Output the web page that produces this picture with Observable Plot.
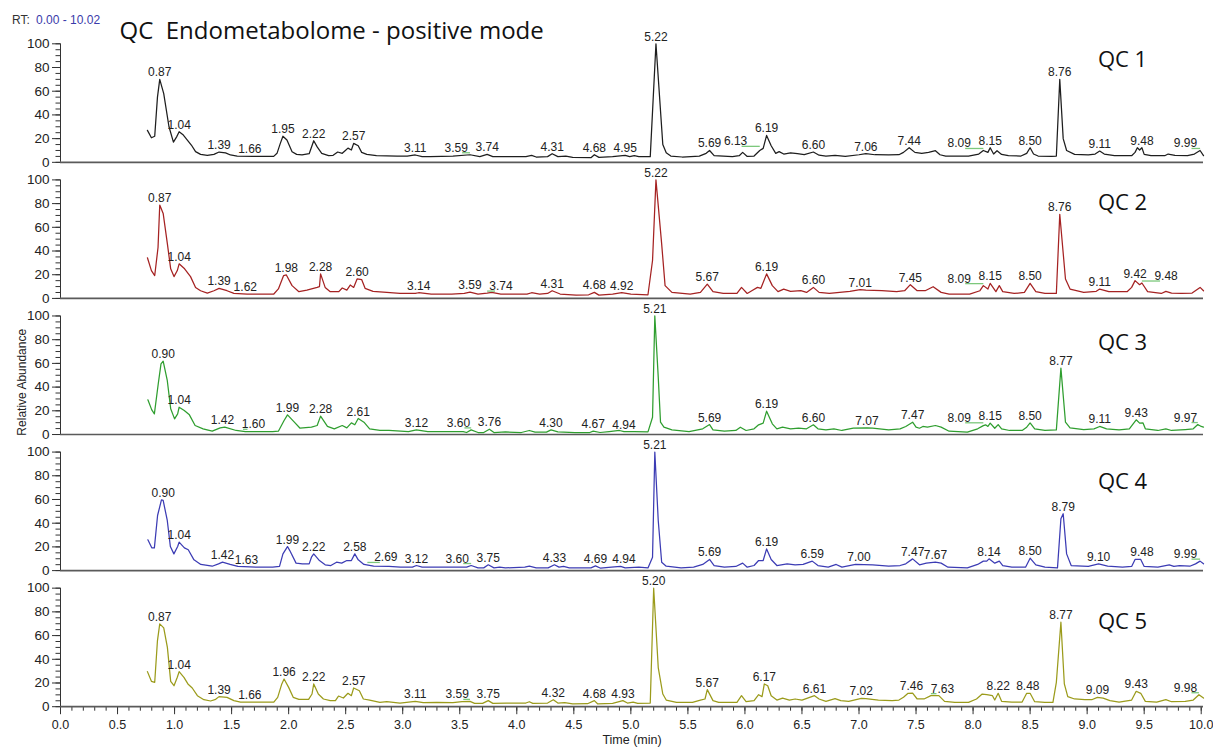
<!DOCTYPE html>
<html>
<head>
<meta charset="utf-8">
<script src="https://cdn.jsdelivr.net/npm/d3@7"></script>
<script src="https://cdn.jsdelivr.net/npm/@observablehq/plot@0.6"></script>
<style>
  html, body { margin: 0; padding: 0; background: #fff; }
</style>
</head>
<body>
<div id="chart"></div>
<script>
// Five QC injections, relative abundance (%) against retention time (min)
const samples = ["QC 1", "QC 2", "QC 3", "QC 4", "QC 5"];
const traceColors = ["#1e1e1e", "#a52222", "#2f9e2f", "#3c3cb4", "#9b9b1b"];

const qc1 = [[0.762,27],[0.797,20.7],[0.826,22],[0.85,55],[0.87,70],[0.905,58],[0.951,30],[0.99,17],[1.018,21.5],[1.04,25.8],[1.077,23],[1.112,18.8],[1.147,14.6],[1.184,9],[1.228,6.7],[1.287,5.9],[1.345,6.7],[1.39,8.7],[1.447,8],[1.49,6.2],[1.549,5.3],[1.694,5],[1.869,5],[1.898,7.6],[1.927,16],[1.95,22],[1.985,18.8],[2.03,9],[2.07,6.7],[2.117,6.2],[2.18,7.3],[2.22,18.2],[2.25,13],[2.29,7.6],[2.35,5.6],[2.39,5.9],[2.43,8.7],[2.47,7.6],[2.495,9.8],[2.52,12],[2.55,10.4],[2.57,16],[2.61,14],[2.64,8.4],[2.685,6.7],[2.77,5.6],[2.95,5.3],[3.04,5.3],[3.11,6.2],[3.17,4.8],[3.24,4.8],[3.44,5.3],[3.59,6.4],[3.676,4.8],[3.74,6.7],[3.79,4.8],[4.08,4.8],[4.13,5.9],[4.17,4.5],[4.27,4.8],[4.31,7.3],[4.36,4.8],[4.43,5.3],[4.49,4.2],[4.65,3.9],[4.68,6.4],[4.72,4.2],[4.84,4.8],[4.95,5.9],[4.99,4.8],[5.03,5.6],[5.07,4.8],[5.17,4.8],[5.22,100],[5.28,15],[5.31,8],[5.35,5.3],[5.45,4.5],[5.6,5.3],[5.66,7.6],[5.69,10],[5.73,5.6],[5.89,4.8],[5.95,5.6],[5.98,8.4],[6.02,5],[6.08,5.3],[6.13,10],[6.16,11.8],[6.19,22.7],[6.23,14],[6.27,7.6],[6.3,9],[6.34,7],[6.4,8],[6.46,7.3],[6.52,6.5],[6.6,8.7],[6.65,6],[6.71,5.3],[6.79,5.9],[6.88,5],[7,6.4],[7.06,7.3],[7.14,6.4],[7.26,6.2],[7.35,6.4],[7.39,8.4],[7.44,12.3],[7.49,8.4],[7.55,7.6],[7.61,8.4],[7.67,9.8],[7.71,6.4],[7.76,5.3],[7.96,5.3],[8.05,7],[8.09,10],[8.13,8.4],[8.15,12.3],[8.18,7],[8.21,9.8],[8.25,6.7],[8.31,5.6],[8.42,5.3],[8.47,7.6],[8.5,12.3],[8.53,7],[8.57,5.3],[8.69,5],[8.73,5.3],[8.76,70],[8.79,20],[8.82,10],[8.89,6.7],[9.01,6.2],[9.07,7],[9.11,9.5],[9.15,7],[9.24,5.6],[9.39,5.6],[9.42,8.4],[9.44,12.3],[9.46,10.4],[9.48,12.3],[9.5,6.7],[9.56,5.6],[9.68,5.6],[9.71,7],[9.77,5.9],[9.88,5.6],[9.94,7],[9.99,10],[10.02,5.6]];

const qc2 = [[0.762,34.3],[0.797,23.5],[0.826,19.3],[0.855,43],[0.87,78.8],[0.9,71.7],[0.937,46],[0.966,25],[0.995,18.4],[1.024,23.5],[1.04,29.2],[1.088,25],[1.14,18.4],[1.184,9.3],[1.228,6.5],[1.287,4.5],[1.345,6.5],[1.39,8.5],[1.46,6.5],[1.52,4.2],[1.636,3.7],[1.87,3.7],[1.91,8],[1.956,19.3],[1.98,19.8],[2.03,10.8],[2.09,5.7],[2.16,7],[2.25,9.3],[2.27,9.9],[2.28,20.7],[2.32,9.3],[2.365,5.7],[2.44,5.7],[2.47,8.8],[2.51,7],[2.54,11.3],[2.57,9.3],[2.6,16.4],[2.64,15.9],[2.67,8.5],[2.74,6],[2.86,5.1],[2.976,4.2],[3.11,4.2],[3.14,4.8],[3.25,3.7],[3.43,3.7],[3.54,4.2],[3.59,5.4],[3.66,3.7],[3.74,4.5],[3.78,5.1],[3.86,3.7],[4.09,3.7],[4.13,4.8],[4.2,3.7],[4.27,4.2],[4.31,6.5],[4.38,3.7],[4.52,2.8],[4.63,3.1],[4.68,5.1],[4.72,2.8],[4.84,3.7],[4.92,4.8],[5,3.7],[5.15,3.1],[5.19,32],[5.22,100],[5.27,46],[5.3,10.8],[5.36,5.1],[5.52,3.7],[5.61,5.1],[5.67,12],[5.72,5.7],[5.81,4.2],[5.93,4.2],[5.97,9.3],[6.02,4.2],[6.06,6.5],[6.11,9.3],[6.14,8.5],[6.19,20.7],[6.24,10.8],[6.29,5.7],[6.34,7.9],[6.4,6],[6.49,6.5],[6.54,5.1],[6.6,9.3],[6.65,5.1],[6.74,4.2],[6.83,5.1],[6.92,6],[7.01,7.4],[7.06,7],[7.2,6.5],[7.33,5.7],[7.4,6.5],[7.45,11.6],[7.51,6.5],[7.58,6.5],[7.65,9.9],[7.72,5.1],[7.79,3.7],[7.97,3.7],[8.06,6.5],[8.09,10.8],[8.13,7.9],[8.15,12.7],[8.2,5.7],[8.23,10.8],[8.26,5.7],[8.36,4.2],[8.45,5.1],[8.5,12.7],[8.55,5.7],[8.63,4.2],[8.73,4.2],[8.76,71],[8.81,16.4],[8.85,7.9],[8.97,5.1],[9.08,6],[9.11,7.9],[9.19,5.7],[9.35,5.7],[9.39,9.3],[9.42,15],[9.46,11.6],[9.48,13],[9.53,5.7],[9.65,4.2],[9.69,6],[9.74,4.5],[9.83,4.2],[9.92,4.5],[9.99,9.3],[10.02,6.5]];

const qc3 = [[0.766,29.3],[0.8,20.8],[0.823,17.4],[0.857,42.8],[0.881,59.6],[0.9,61.9],[0.936,45.6],[0.966,21.7],[1,13.2],[1.027,17.4],[1.04,23],[1.085,20.3],[1.13,16.6],[1.18,7.6],[1.25,4.8],[1.33,2.8],[1.4,5.6],[1.44,6.2],[1.54,3.4],[1.62,2.5],[1.86,2.5],[1.91,2.8],[1.96,11.8],[1.99,16.6],[2.05,10.4],[2.1,5.3],[2.2,6.2],[2.25,7.6],[2.28,15.5],[2.34,6.8],[2.4,4.8],[2.47,7.6],[2.51,5.6],[2.55,9.8],[2.58,8.2],[2.61,13.5],[2.66,10.4],[2.71,4.8],[2.8,3.4],[2.88,3.4],[3.05,2.5],[3.12,3.9],[3.22,2.5],[3.53,2.5],[3.56,1.7],[3.6,3.9],[3.66,1.7],[3.71,1.7],[3.76,4.5],[3.8,1.7],[3.9,2.2],[4.04,1.7],[4.11,3.4],[4.16,2],[4.26,2],[4.3,3.9],[4.36,2.2],[4.51,1.7],[4.64,1.7],[4.67,2.8],[4.73,1.7],[4.81,2.5],[4.9,3.4],[4.94,2.5],[5.03,2.5],[5.15,2.2],[5.19,14.6],[5.21,100],[5.24,48.4],[5.26,10.4],[5.29,6.2],[5.36,3.9],[5.51,2.5],[5.63,4.8],[5.69,8.4],[5.72,3.9],[5.82,2.8],[5.92,3.4],[5.96,6.2],[6.01,3.4],[6.08,4.8],[6.12,8.2],[6.16,9.6],[6.19,19.7],[6.24,9],[6.28,4.8],[6.33,6.2],[6.4,4.8],[6.47,5.3],[6.54,4.8],[6.6,8.2],[6.64,4.8],[6.71,3.9],[6.78,4.8],[6.85,3.4],[6.95,5.3],[7.07,5.6],[7.12,5.3],[7.26,3.9],[7.36,4.8],[7.41,6.8],[7.47,10.4],[7.5,6.2],[7.53,5.3],[7.56,6.8],[7.6,6.2],[7.67,7.6],[7.72,6.2],[7.79,2.8],[7.95,2],[8.04,4.8],[8.09,7.5],[8.11,8.2],[8.13,6.8],[8.15,9.6],[8.19,5.3],[8.22,8.4],[8.25,4.8],[8.32,3.4],[8.43,3.4],[8.47,6.2],[8.5,9.8],[8.54,4.8],[8.63,3.4],[8.73,3.9],[8.77,56],[8.81,10.4],[8.85,5.6],[8.97,4.2],[9.06,4.8],[9.11,6.8],[9.17,4.8],[9.28,3.9],[9.37,4.8],[9.43,12.4],[9.46,9.6],[9.49,9.8],[9.51,4.8],[9.62,3.4],[9.69,4.8],[9.74,3.4],[9.86,4.2],[9.93,4.8],[9.97,8.4],[10,6.8],[10.02,6.2]];

const qc4 = [[0.766,26],[0.8,19.2],[0.823,19.2],[0.851,46.5],[0.885,59.7],[0.9,59.2],[0.936,42.3],[0.963,20.3],[0.994,14.1],[1.027,20.3],[1.04,24],[1.086,19.2],[1.12,17.6],[1.17,9.1],[1.23,5.2],[1.33,3.7],[1.385,5.7],[1.42,7.1],[1.487,5.2],[1.555,3.5],[1.72,2.9],[1.86,2.9],[1.92,3.5],[1.95,14.1],[1.99,20.3],[2.01,16.9],[2.065,6.3],[2.12,5.7],[2.18,5.7],[2.2,11.3],[2.22,14.1],[2.27,8.5],[2.32,4.9],[2.37,4.3],[2.42,7.1],[2.465,6.3],[2.51,8.5],[2.55,8.5],[2.58,14.1],[2.61,9.1],[2.66,5.2],[2.745,3.7],[2.88,3.5],[2.98,2.9],[3.085,2.9],[3.12,4.3],[3.17,2.9],[3.56,2.9],[3.6,4.3],[3.66,2.3],[3.71,2.3],[3.75,4.9],[3.8,2.3],[3.85,2.9],[3.9,2.3],[4.07,2.9],[4.11,3.7],[4.17,2.3],[4.275,2.3],[4.33,4.9],[4.37,2.9],[4.41,3.5],[4.46,2.3],[4.65,2.3],[4.69,4],[4.735,2],[4.83,2.9],[4.91,3.5],[4.95,2.3],[5.07,2.9],[5.15,2.3],[5.19,11.3],[5.21,100],[5.24,42.3],[5.27,7.1],[5.31,3.7],[5.44,2.3],[5.55,2.9],[5.63,5.2],[5.69,9.4],[5.73,4.3],[5.82,2.9],[5.92,3.5],[5.98,6.3],[6.02,2.9],[6.08,4.3],[6.12,8.5],[6.16,8.5],[6.19,18.3],[6.23,9.4],[6.28,4.3],[6.37,5.7],[6.44,4.9],[6.51,5.2],[6.59,8],[6.64,4.3],[6.73,2.9],[6.8,5.2],[6.85,2.9],[6.97,5.2],[7.12,4.9],[7.26,3.7],[7.36,4.3],[7.41,5.7],[7.47,9.9],[7.53,4.9],[7.59,6.3],[7.67,7.1],[7.72,6.3],[7.78,2.9],[7.95,2.3],[8.04,5.2],[8.09,8],[8.12,8],[8.14,9.9],[8.19,6.3],[8.23,8],[8.26,4.3],[8.34,2.9],[8.46,2.9],[8.5,10.5],[8.55,4.9],[8.63,2.9],[8.74,2.3],[8.77,43.7],[8.79,48],[8.82,14.1],[8.86,4.3],[9.01,3.5],[9.1,5.7],[9.18,3.7],[9.31,2.9],[9.39,3.5],[9.42,9.4],[9.47,9.4],[9.5,3.5],[9.62,2.9],[9.72,4.9],[9.76,3.5],[9.81,4.3],[9.9,3.7],[9.95,5.7],[9.99,8],[10.02,5.7]];

const qc5 = [[0.762,29.6],[0.797,21.4],[0.826,20.6],[0.85,55.8],[0.87,69.9],[0.905,66.5],[0.937,50],[0.966,21.4],[0.995,17.7],[1.024,24.8],[1.04,29.6],[1.082,24.8],[1.117,19.2],[1.155,15.8],[1.2,9.3],[1.257,5.9],[1.316,4.8],[1.36,6.2],[1.39,8.5],[1.46,7.9],[1.52,5.1],[1.578,3.9],[1.87,3.9],[1.904,7.9],[1.94,19.2],[1.96,23.4],[2,16.3],[2.04,7.9],[2.09,6.2],[2.175,6.2],[2.205,10.7],[2.22,19.2],[2.26,10.7],[2.305,6.5],[2.365,5.1],[2.41,5.1],[2.437,9],[2.48,7.3],[2.52,11.3],[2.55,9.3],[2.57,15.8],[2.62,13.5],[2.655,6.5],[2.71,5.6],[2.8,3.7],[2.86,4.2],[2.976,3.1],[3.11,4.5],[3.18,3.4],[3.3,3.7],[3.44,3.4],[3.52,4.2],[3.59,4.5],[3.63,2.8],[3.7,2.8],[3.75,5.1],[3.79,2.8],[3.91,3.1],[4.08,3.1],[4.11,4.2],[4.14,2.8],[4.27,3.1],[4.32,5.9],[4.36,3.1],[4.42,3.4],[4.49,2.3],[4.62,2.5],[4.68,5.1],[4.71,2.3],[4.84,2.8],[4.93,5.1],[4.97,3.1],[5.02,3.9],[5.06,2.8],[5.17,3.1],[5.2,100],[5.24,33],[5.28,10.7],[5.31,5.6],[5.4,3.7],[5.54,3.7],[5.61,5.6],[5.65,6.5],[5.67,14.4],[5.72,5.1],[5.77,3.7],[5.93,3.7],[5.97,9.3],[6.01,4.2],[6.08,5.1],[6.12,10.1],[6.15,8.5],[6.17,19.2],[6.2,17.7],[6.23,9.3],[6.28,5.6],[6.33,7.3],[6.39,5.6],[6.44,6.5],[6.5,5.6],[6.61,9.3],[6.65,6.5],[6.71,4.5],[6.79,6.8],[6.84,5.1],[6.91,4.5],[7.02,7],[7.06,6.8],[7.17,5.6],[7.29,5.1],[7.35,5.6],[7.39,7.9],[7.43,11.3],[7.47,11.5],[7.51,6.5],[7.57,6.5],[7.63,9.3],[7.7,9.3],[7.75,4.5],[7.84,3.7],[7.96,3.7],[8.03,6.5],[8.08,10.7],[8.12,10.1],[8.17,9.3],[8.19,5.6],[8.22,11.3],[8.25,4.5],[8.34,3.9],[8.43,3.9],[8.47,11.3],[8.5,11.3],[8.54,4.2],[8.63,3.7],[8.7,3.7],[8.73,20.6],[8.77,71.3],[8.8,19.2],[8.83,8.5],[8.89,6.5],[8.98,5.9],[9.04,5.9],[9.09,7.9],[9.14,7.3],[9.2,5.1],[9.28,3.9],[9.39,5.6],[9.43,13],[9.47,11.3],[9.51,4.5],[9.61,3.9],[9.69,5.9],[9.74,4.2],[9.86,4.5],[9.93,5.6],[9.98,10.1],[10.02,7.3]];

// Annotated peak retention times (min) per injection
const peaks1 = [0.87,1.04,1.39,1.66,1.95,2.22,2.57,3.11,3.59,3.74,4.31,4.68,4.95,5.22,5.69,6.13,6.19,6.60,7.06,7.44,8.09,8.15,8.50,8.76,9.11,9.48,9.99];
const peaks2 = [0.87,1.04,1.39,1.62,1.98,2.28,2.60,3.14,3.59,3.74,4.31,4.68,4.92,5.22,5.67,6.19,6.60,7.01,7.45,8.09,8.15,8.50,8.76,9.11,9.42,9.48];
const peaks3 = [0.90,1.04,1.42,1.60,1.99,2.28,2.61,3.12,3.60,3.76,4.30,4.67,4.94,5.21,5.69,6.19,6.60,7.07,7.47,8.09,8.15,8.50,8.77,9.11,9.43,9.97];
const peaks4 = [0.90,1.04,1.42,1.63,1.99,2.22,2.58,2.69,3.12,3.60,3.75,4.33,4.69,4.94,5.21,5.69,6.19,6.59,7.00,7.47,7.67,8.14,8.50,8.79,9.10,9.48,9.99];
const peaks5 = [0.87,1.04,1.39,1.66,1.96,2.22,2.57,3.11,3.59,3.75,4.32,4.68,4.93,5.20,5.67,6.17,6.61,7.02,7.46,7.63,8.22,8.48,8.77,9.09,9.43,9.98];

const yTicks = [0, 20, 40, 60, 80, 100];
const yMinorTicks = d3.range(0, 101, 5);
const xTicks = d3.range(0, 21).map(i => i / 2);
const xMinorTicks = d3.range(0, 101).map(i => i / 10);
const rtDomain = [0, 10.02];
const titleText = "QC  Endometabolome - positive mode";
const rangePrefix = "RT:";
const rangeText = "0.00 - 10.02";
const yLabel = "Relative Abundance";
const xLabel = "Time (min)";

// ---- layout constants ----
const W = 1213, H = 747;
const M = {top: 43.3, bottom: 40.8, left: 60, right: 10};
const panelGap = 0.129;                 // inner padding of the panel band scale
const sans = "'Liberation Sans', Arial, sans-serif";
const display = "'Open Sans', 'Noto Sans', sans-serif";
const sampleLabelDrop = [23, 30, 34, 37, 41];

// ---- build tables ----
const traces = [qc1, qc2, qc3, qc4, qc5];
const peakLists = [peaks1, peaks2, peaks3, peaks4, peaks5];

const points = samples.flatMap((s, i) => traces[i].map(([t, v]) => ({sample: s, t, v})));

// height of the trace at a labelled retention time (local maximum nearby)
function apexAt(trace, rt) {
  let best = -1;
  for (const [t, v] of trace) if (Math.abs(t - rt) <= 0.031 && v > best) best = v;
  for (let k = 1; k < trace.length; k++) {
    const [t0, v0] = trace[k - 1], [t1, v1] = trace[k];
    if (t0 <= rt && rt <= t1) best = Math.max(best, v0 + (v1 - v0) * (rt - t0) / (t1 - t0));
  }
  return best;
}

// Peak-label placement: taller peaks keep their spot; a smaller peak whose label
// would collide is pushed sideways, and a leader joins it back to its apex.
const plotRight = W - M.right;
const pxPerMin = (plotRight - M.left) / (rtDomain[1] - rtDomain[0]);
const panelPx = (H - M.top - M.bottom) / (samples.length - panelGap);
const pxPerPct = panelPx * (1 - panelGap) / 100;
const labelClear = 22, labelRowClear = 18, labelStep = 31, labelMaxX = plotRight - 18;

function placeLabels(sample, trace, rts) {
  const placed = [];
  const items = rts.map(rt => ({sample, rt, v: apexAt(trace, rt), px: M.left + (rt - rtDomain[0]) * pxPerMin}));
  for (const d of [...items].sort((a, b) => b.v - a.v)) {
    let cx = Math.min(d.px, labelMaxX);
    for (let iter = 0; iter < 12; iter++) {
      const hit = placed.find(p => Math.abs(p.cx - cx) < labelClear && Math.abs(p.v - d.v) * pxPerPct < labelRowClear);
      if (!hit) break;
      cx = d.px <= hit.px ? hit.cx - labelStep : hit.cx + labelStep;
    }
    d.cx = cx;
    placed.push(d);
  }
  return items.map(d => {
    const side = Math.sign(d.px - d.cx);
    return {
      ...d,
      lx: rtDomain[0] + (d.cx - M.left) / pxPerMin,
      leadFrom: rtDomain[0] + (d.cx + side * 6 - M.left) / pxPerMin,
      moved: Math.abs(d.px - d.cx) > 4
    };
  });
}
const peakLabels = samples.flatMap((s, i) => placeLabels(s, traces[i], peakLists[i]));
const leaders = peakLabels.filter(d => d.moved);

const chart = Plot.plot({
  width: W,
  height: H,
  marginTop: M.top,
  marginBottom: M.bottom,
  marginLeft: M.left,
  marginRight: M.right,
  style: {fontFamily: sans, fontSize: "12px", color: "#222", background: "#fff", overflow: "visible"},
  x: {domain: rtDomain},
  y: {domain: [0, 100]},
  fy: {domain: samples, paddingInner: panelGap, paddingOuter: 0, round: false, axis: null},
  color: {domain: samples, range: traceColors},
  marks: [
    Plot.axisY({ticks: yMinorTicks, tickSize: 4.5, text: null, stroke: "#333", label: null}),
    Plot.axisY({ticks: yTicks, tickSize: 8, tickPadding: 3, stroke: "#333", fill: "#222", fontSize: 13.5, label: null}),
    Plot.axisX({ticks: xMinorTicks, tickSize: 4.5, text: null, stroke: "#333", label: null}),
    Plot.axisX({ticks: xTicks, tickSize: 8, tickPadding: 5, tickFormat: d3.format(".1f"),
      stroke: "#333", fill: "#222", fontSize: 12.5,
      label: xLabel, labelAnchor: "center", labelArrow: "none", labelOffset: 37}),
    Plot.ruleX([0], {stroke: "#333", strokeWidth: 1}),
    Plot.ruleY([0], {stroke: "#5a5a5a", strokeWidth: 1.7}),
    Plot.line(points, {x: "t", y: "v", fy: "sample", stroke: "sample", strokeWidth: 1.25, curve: "linear"}),
    Plot.link(leaders, {x1: "leadFrom", y1: "v", x2: "rt", y2: "v", fy: "sample",
      stroke: "#7cc87c", strokeWidth: 1.3, dy: -2}),
    Plot.text(peakLabels, {x: "lx", y: "v", fy: "sample", text: d => d.rt.toFixed(2),
      lineAnchor: "bottom", dy: -3, fill: "#222", fontSize: 12}),
    // per-panel sample name
    ...samples.map((s, i) => Plot.text([s], {fy: d => d, text: d => d, frameAnchor: "top-right",
      dx: -81, dy: sampleLabelDrop[i], lineAnchor: "bottom", textAnchor: "middle",
      fontFamily: display, fontSize: 22, fill: "#111"})),
    // heading and range note above the first panel
    Plot.text([titleText], {fy: () => samples[0], text: d => d, frameAnchor: "top-left",
      dx: 59, dy: -5, textAnchor: "start", lineAnchor: "bottom",
      fontFamily: display, fontSize: 24, fill: "#111"}),
    Plot.text([rangePrefix], {fy: () => samples[0], text: d => d, frameAnchor: "top-left",
      dx: -48.5, dy: -20, textAnchor: "start", lineAnchor: "bottom", fontSize: 12, fill: "#333"}),
    Plot.text([rangeText], {fy: () => samples[0], text: d => d, frameAnchor: "top-left",
      dx: -24.5, dy: -20, textAnchor: "start", lineAnchor: "bottom", fontSize: 12, fill: "#3a3aaa"}),
    // y axis title, centred on the middle panel
    Plot.text([yLabel], {fy: () => samples[2], text: d => d, frameAnchor: "left",
      dx: -38.5, dy: 7, rotate: -90, textAnchor: "middle", fontSize: 12, fill: "#222"})
  ]
});

document.getElementById("chart").appendChild(chart);
</script>
</body>
</html>
